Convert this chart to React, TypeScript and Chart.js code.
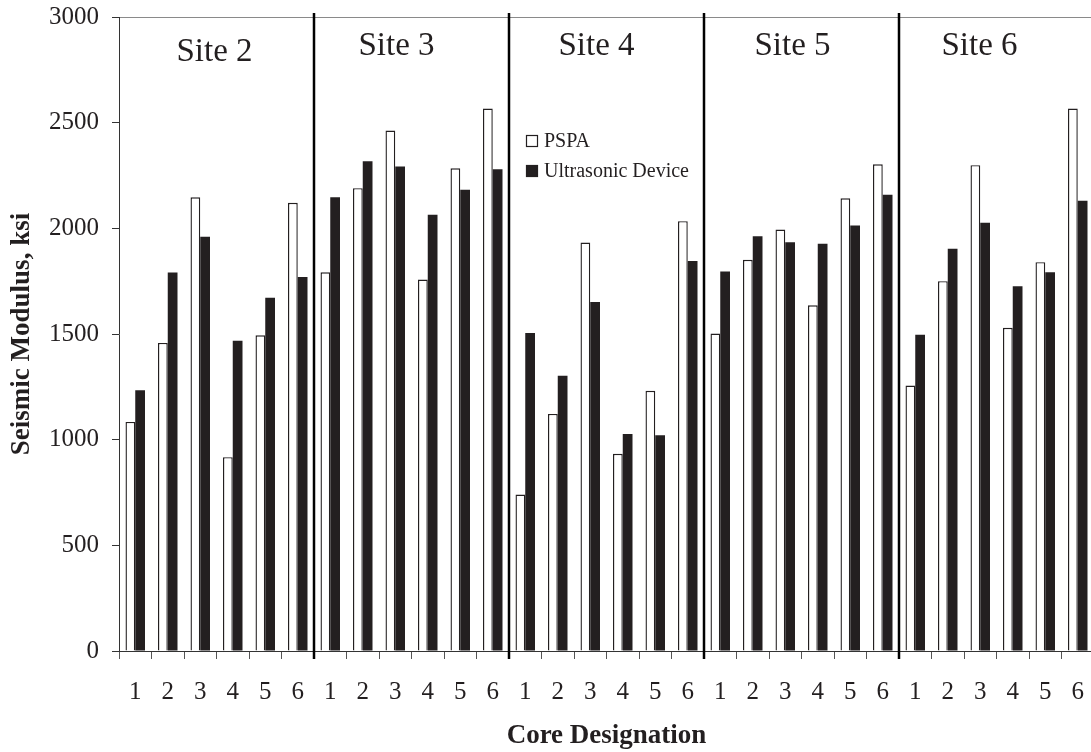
import { useEffect, useRef } from 'react';
import { Chart, registerables } from 'chart.js';

Chart.register(...registerables);

// ---------------- data ----------------
const siteNames = ['Site 2', 'Site 3', 'Site 4', 'Site 5', 'Site 6'];
const coreNumbers = ['1', '2', '3', '4', '5', '6'];
const categories = siteNames.flatMap(() => coreNumbers);

const pspaValues = [
  1084, 1458, 2147, 917, 1494, 2121,
  1792, 2190, 2463, 1758, 2284, 2567,
  740, 1122, 1933, 933, 1231, 2034,
  1502, 1851, 1994, 1636, 2142, 2303,
  1256, 1750, 2299, 1529, 1840, 2567,
];
const ultrasonicValues = [
  1234, 1791, 1960, 1468, 1671, 1770,
  2147, 2318, 2293, 2064, 2182, 2280,
  1505, 1303, 1652, 1027, 1021, 1846,
  1796, 1963, 1934, 1927, 2013, 2159,
  1497, 1903, 2027, 1726, 1792, 2130,
];
const yTicks = [0, 500, 1000, 1500, 2000, 2500, 3000];

// ---------------- style ----------------
const FONT = '"Liberation Serif", "Times New Roman", serif';
const INK = '#231f20';
const siteLabelDx = [-2, -15, -10, -9, -17];
const siteLabelDy = [44, 38, 38, 38, 38];

const overlayPlugin = {
  id: 'overlay',
  afterDatasetsDraw(chart: any) {
    const { ctx, chartArea, scales } = chart;
    const x = scales.x;
    const n = coreNumbers.length;
    const half = (x.getPixelForValue(1) - x.getPixelForValue(0)) / 2;
    ctx.save();
    // site separators
    ctx.strokeStyle = '#000';
    ctx.lineWidth = 2.5;
    for (let s = 1; s < siteNames.length; s++) {
      const px = x.getPixelForValue(s * n) - half;
      ctx.beginPath();
      ctx.moveTo(px, chartArea.top - 4);
      ctx.lineTo(px, chartArea.bottom + 8);
      ctx.stroke();
    }
    // site labels
    ctx.font = `33px ${FONT}`;
    ctx.fillStyle = INK;
    ctx.textAlign = 'center';
    ctx.textBaseline = 'alphabetic';
    siteNames.forEach((name, s) => {
      const left = x.getPixelForValue(s * n) - half;
      const right = x.getPixelForValue(s * n + n - 1) + half;
      ctx.fillText(name, (left + right) / 2 + siteLabelDx[s], chartArea.top + siteLabelDy[s]);
    });
    // legend
    const lx = x.getPixelForValue(2 * n) - half + 17;
    const rows = [chartArea.top + 124, chartArea.top + 154];
    ctx.font = `20px ${FONT}`;
    ctx.textAlign = 'left';
    ctx.textBaseline = 'middle';
    chart.data.datasets.forEach((ds: any, i: number) => {
      const cy = rows[i];
      ctx.fillStyle = ds.backgroundColor;
      ctx.fillRect(lx, cy - 6, 12, 12);
      ctx.strokeStyle = INK;
      ctx.lineWidth = 1.2;
      ctx.strokeRect(lx + 0.5, cy - 5.5, 11, 11);
      ctx.fillStyle = INK;
      ctx.fillText(ds.label, lx + 18, cy + 1);
    });
    ctx.restore();
  },
};

export default function App() {
  const ref = useRef<HTMLCanvasElement>(null);

  useEffect(() => {
    document.body.style.margin = '0';
    Chart.defaults.font.family = FONT;
    Chart.defaults.color = INK;
    const chart = new Chart(ref.current as HTMLCanvasElement, {
      type: 'bar',
      data: {
        labels: categories,
        datasets: [
          {
            label: 'PSPA',
            data: pspaValues,
            backgroundColor: '#ffffff',
            borderColor: INK,
            borderWidth: 1.4,
            categoryPercentage: 0.6,
            barPercentage: 1.0,
          },
          {
            label: 'Ultrasonic Device',
            data: ultrasonicValues,
            backgroundColor: INK,
            borderColor: INK,
            borderWidth: 0,
            categoryPercentage: 0.6,
            barPercentage: 1.0,
          },
        ],
      },
      options: {
        responsive: false,
        animation: false,
        devicePixelRatio: 1,
        layout: { padding: { top: 17, right: 6, left: 0, bottom: 0 } },
        plugins: {
          legend: { display: false },
          tooltip: { enabled: false },
        },
        scales: {
          x: {
            offset: true,
            grid: {
              offset: true,
              drawOnChartArea: false,
              drawTicks: true,
              tickLength: 8,
              tickColor: '#555',
              tickWidth: 1,
            },
            border: { display: true, color: '#333', width: 1 },
            ticks: {
              font: { size: 25 },
              color: INK,
              padding: 18,
              maxRotation: 0,
              autoSkip: false,
            },
            title: {
              display: true,
              text: 'Core Designation',
              font: { size: 27, weight: 'bold', lineHeight: 1.2 },
              color: INK,
              padding: { top: 0, bottom: 0 },
            },
            afterFit: (scale: any) => {
              scale.height = 101;
              scale.paddingLeft = 0;
              scale.paddingRight = 0;
            },
          },
          y: {
            min: 0,
            max: 3000,
            afterBuildTicks: (scale: any) => {
              scale.ticks = yTicks.map((v) => ({ value: v }));
            },
            grid: {
              color: (c: any) => (c.tick && c.tick.value === 3000 ? '#8a8a8a' : 'rgba(0,0,0,0)'),
              tickColor: '#333',
              tickLength: 7,
              lineWidth: 1,
            },
            border: { display: true, color: '#333', width: 1 },
            ticks: {
              font: { size: 25 },
              color: INK,
              padding: 13,
              callback: (v: any) => String(v),
            },
            title: {
              display: true,
              text: 'Seismic Modulus, ksi',
              font: { size: 27, weight: 'bold', lineHeight: 1.2 },
              color: INK,
              padding: { top: 6, bottom: 0 },
            },
            afterFit: (scale: any) => {
              scale.width = 119;
              scale.paddingTop = 0;
              scale.paddingBottom = 0;
            },
          },
        },
      },
      plugins: [overlayPlugin],
    } as any);
    return () => chart.destroy();
  }, []);

  return (
    <div
      style={{
        position: 'fixed',
        left: 0,
        top: 0,
        width: 1091,
        height: 752,
        overflow: 'hidden',
        background: '#fff',
      }}
    >
      <canvas ref={ref} width={1100} height={752} style={{ display: 'block', width: 1100, height: 752 }} />
    </div>
  );
}
